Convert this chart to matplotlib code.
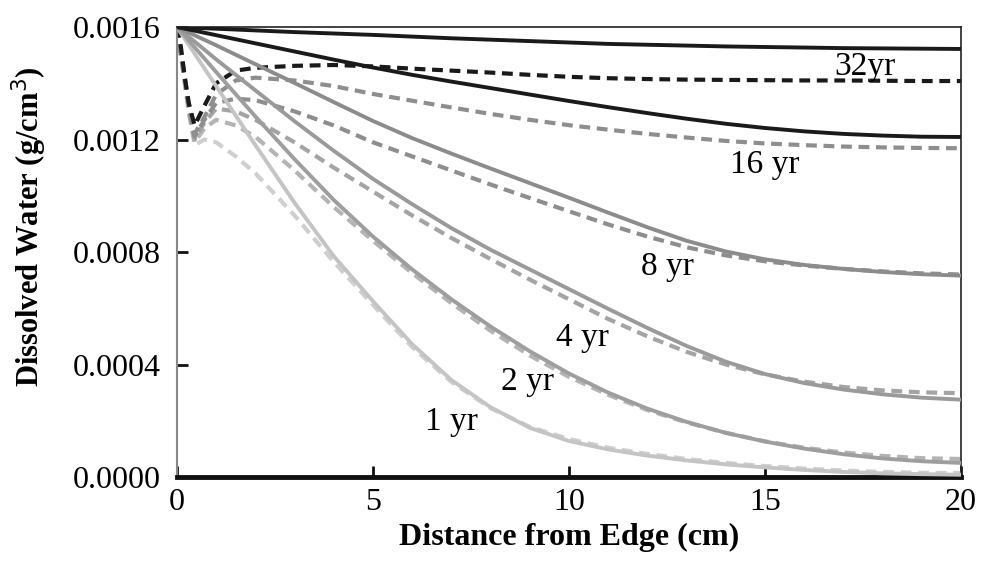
import matplotlib
matplotlib.use("Agg")
import matplotlib.pyplot as plt

# ---------------- data ----------------
x_solid = list(range(0, 21))
solid_1yr = [0.001600, 0.001390, 0.001180, 0.000975, 0.000785, 0.000625, 0.000472, 0.000345,
             0.000248, 0.000175, 0.000128, 0.000098, 0.000076, 0.000059, 0.000045, 0.000034,
             0.000025, 0.000018, 0.000013, 0.000010, 0.000008]
solid_2yr = [0.001600, 0.001440, 0.001282, 0.001130, 0.000985, 0.000855, 0.000738, 0.000632,
             0.000535, 0.000447, 0.000368, 0.000300, 0.000243, 0.000196, 0.000157, 0.000126,
             0.000101, 0.000081, 0.000066, 0.000056, 0.000050]
solid_4yr = [0.001600, 0.001485, 0.001375, 0.001265, 0.001160, 0.001060, 0.000970, 0.000885,
             0.000808, 0.000738, 0.000668, 0.000598, 0.000530, 0.000466, 0.000410, 0.000366,
             0.000334, 0.000311, 0.000294, 0.000282, 0.000275]
solid_8yr = [0.001600, 0.001535, 0.001468, 0.001401, 0.001333, 0.001266, 0.001205, 0.001150,
             0.001097, 0.001045, 0.000993, 0.000940, 0.000888, 0.000840, 0.000802, 0.000774,
             0.000754, 0.000740, 0.000729, 0.000721, 0.000716]
solid_16yr = [0.001600, 0.001571, 0.001542, 0.001513, 0.001484, 0.001456, 0.001430, 0.001406,
              0.001383, 0.001360, 0.001337, 0.001315, 0.001294, 0.001274, 0.001256, 0.001241,
              0.001229, 0.001220, 0.001214, 0.001210, 0.001209]
solid_32yr = [0.001600, 0.001594, 0.001588, 0.001582, 0.001577, 0.001572, 0.001566, 0.001560,
              0.001555, 0.001550, 0.001545, 0.001540, 0.001537, 0.001534, 0.001531, 0.001529,
              0.001527, 0.001525, 0.001524, 0.001523, 0.001522]

x_dash = [0, 0.1, 0.2, 0.3, 0.45, 0.7, 1.0, 1.5, 2, 3, 4, 5, 6, 7, 8, 9, 10,
          11, 12, 13, 14, 15, 16, 17, 18, 19, 20]
dash_1yr = [0.001600, 0.001500, 0.001400, 0.001300, 0.001180, 0.001200, 0.001190, 0.001140,
            0.001080, 0.000930, 0.000765, 0.000612, 0.000462, 0.000338, 0.000245, 0.000178,
            0.000135, 0.000104, 0.000082, 0.000064, 0.000050, 0.000039, 0.000030, 0.000023,
            0.000018, 0.000015, 0.000014]
dash_2yr = [0.001600, 0.001500, 0.001400, 0.001300, 0.001190, 0.001240, 0.001270, 0.001250,
            0.001210, 0.001090, 0.000960, 0.000840, 0.000725, 0.000618, 0.000520, 0.000432,
            0.000356, 0.000292, 0.000238, 0.000194, 0.000157, 0.000127, 0.000104, 0.000087,
            0.000075, 0.000067, 0.000064]
dash_4yr = [0.001600, 0.001500, 0.001410, 0.001310, 0.001200, 0.001260, 0.001310, 0.001300,
            0.001270, 0.001190, 0.001100, 0.001015, 0.000930, 0.000850, 0.000775, 0.000702,
            0.000632, 0.000562, 0.000500, 0.000445, 0.000400, 0.000365, 0.000339, 0.000320,
            0.000308, 0.000301, 0.000298]
dash_8yr = [0.001600, 0.001510, 0.001420, 0.001320, 0.001210, 0.001270, 0.001330, 0.001345,
            0.001340, 0.001300, 0.001250, 0.001190, 0.001140, 0.001090, 0.001040, 0.000992,
            0.000945, 0.000898, 0.000855, 0.000817, 0.000788, 0.000767, 0.000752, 0.000740,
            0.000731, 0.000724, 0.000720]
dash_16yr = [0.001600, 0.001510, 0.001420, 0.001330, 0.001220, 0.001280, 0.001360, 0.001410,
             0.001420, 0.001410, 0.001390, 0.001362, 0.001338, 0.001314, 0.001291, 0.001270,
             0.001251, 0.001235, 0.001220, 0.001207, 0.001195, 0.001186, 0.001180, 0.001175,
             0.001172, 0.001170, 0.001169]
dash_32yr = [0.001600, 0.001530, 0.001420, 0.001330, 0.001250, 0.001320, 0.001400, 0.001445,
             0.001455, 0.001462, 0.001465, 0.001460, 0.001452, 0.001445, 0.001438, 0.001430,
             0.001423, 0.001418, 0.001415, 0.001413, 0.001412, 0.001411, 0.001410, 0.001410,
             0.001409, 0.001408, 0.001408]

labels = ["1 yr", "2 yr", "4 yr", "8 yr", "16 yr", "32yr"]
label_x = [7.0, 8.95, 10.35, 12.5, 15.0, 17.55]
label_y = [0.000196, 0.000338, 0.000494, 0.000747, 0.001109, 0.001458]

x_ticks = [0, 5, 10, 15, 20]
y_ticks = [0.0, 0.0004, 0.0008, 0.0012, 0.0016]

# ---------------- style ----------------
solids = [solid_1yr, solid_2yr, solid_4yr, solid_8yr, solid_16yr, solid_32yr]
dashes = [dash_1yr, dash_2yr, dash_4yr, dash_8yr, dash_16yr, dash_32yr]
solid_colors = ["#c4c4c4", "#9e9e9e", "#9a9a9a", "#8c8c8c", "#1a1a1a", "#1a1a1a"]
dash_colors = ["#cfcfcf", "#b4b4b4", "#a4a4a4", "#8e8e8e", "#8e8e8e", "#1a1a1a"]

serif = ["Liberation Serif", "DejaVu Serif"]

fig = plt.figure(figsize=(9.82, 5.69), dpi=100)
ax = fig.add_axes([0.1802, 0.1617, 0.7984, 0.7908])

for ys, c in zip(dashes, dash_colors):
    ax.plot(x_dash, ys, color=c, lw=3.0, ls=(0, (2.6, 1.6)), solid_capstyle="butt",
            dash_capstyle="butt", solid_joinstyle="round", zorder=2)
for ys, c in zip(solids, solid_colors):
    ax.plot(x_solid, ys, color=c, lw=2.8, solid_joinstyle="round", zorder=3)

for t, lx, ly in zip(labels, label_x, label_y):
    ax.text(lx, ly, t, ha="center", va="center", fontsize=24, family=serif, zorder=4)

ax.set_xlim(0, 20)
ax.set_ylim(0, 0.0016)
ax.set_xticks(x_ticks)
ax.set_yticks(y_ticks)
ax.set_xticklabels([str(v) for v in x_ticks], family=serif, fontsize=23)
ax.set_yticklabels([f"{v:.4f}" for v in y_ticks], family=serif, fontsize=23)
ax.tick_params(axis="both", direction="in", length=8, width=2, color="#111111")
ax.tick_params(axis="y", pad=12)
ax.tick_params(axis="x", pad=8)

ax.spines["bottom"].set_linewidth(3.5)
ax.spines["bottom"].set_color("#111111")
ax.spines["left"].set_linewidth(1.5)
ax.spines["left"].set_color("#888888")
ax.spines["top"].set_linewidth(1.2)
ax.spines["top"].set_color("#222222")
ax.spines["right"].set_linewidth(1.2)
ax.spines["right"].set_color("#222222")

ax.set_xlabel("Distance from Edge (cm)", family=serif, fontweight="bold", fontsize=23, labelpad=4)
ax.set_ylabel("Dissolved Water (g/cm$^3$)", family=serif, fontweight="bold", fontsize=22)
ax.yaxis.set_label_coords(-0.163, 0.556)

fig.savefig("out.png", dpi=100)
